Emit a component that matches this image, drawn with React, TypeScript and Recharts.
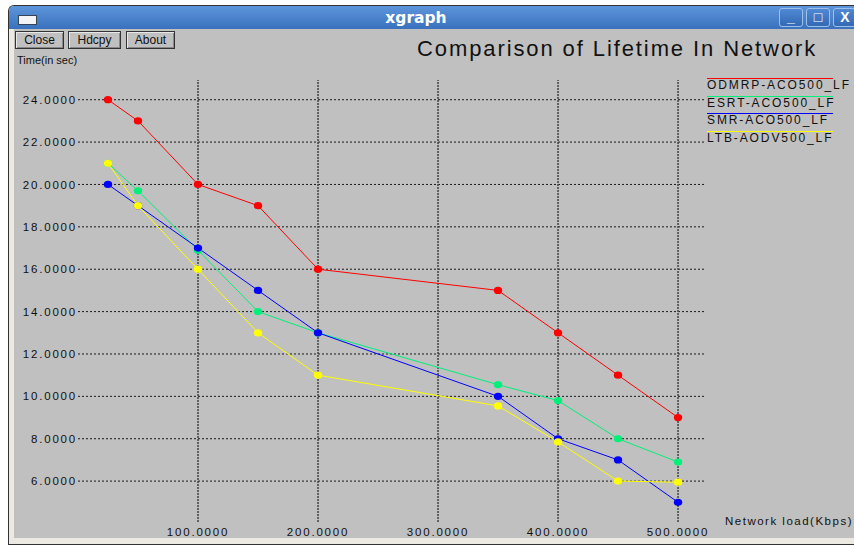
import React from 'react';
import { LineChart, Line, XAxis, YAxis, ReferenceLine } from 'recharts';

// network load (Kbps) for every sample
const loads = [25, 50, 100, 150, 200, 350, 400, 450, 500];

// lifetime in seconds, one list per protocol
const odmrp = [24, 23, 20, 19, 16, 15, 13, 11, 9];
const esrt = [21, 19.7, 16.9, 14, 13, 10.55, 9.8, 8, 6.9];
const smr = [20, 19, 17, 15, 13, 10, 8, 7, 5];
const ltb = [21, 19, 16, 13, 11, 9.55, 7.85, 6, 5.95];

const seriesNames = ['ODMRP-ACO500_LF', 'ESRT-ACO500_LF', 'SMR-ACO500_LF', 'LTB-AODV500_LF'];
const seriesColors = ['#ff0000', '#00f07a', '#0000ff', '#ffff00'];
const seriesValues = [odmrp, esrt, smr, ltb];

const xTicks = [100, 200, 300, 400, 500];
const yTicks = [6, 8, 10, 12, 14, 16, 18, 20, 22, 24];

const data = loads.map((x, i) => {
  const row: Record<string, number> = { x };
  seriesNames.forEach((name, s) => {
    row[name] = seriesValues[s][i];
  });
  return row;
});

const font = '"Liberation Sans", Arial, Helvetica, sans-serif';
const tickStyle = { fontSize: 11.5, fill: '#111', fontFamily: font, letterSpacing: 1.8 };

const GRAY = '#c0c0c0';

const Btn = ({ left, width, label }: { left: number; width: number; label: string }) => (
  <div
    style={{
      position: 'absolute',
      left,
      top: 31,
      width,
      height: 18,
      boxSizing: 'border-box',
      border: '1px solid #333',
      boxShadow: 'inset 1px 1px 0 #e8e8e8, inset -1px -1px 0 #888',
      fontSize: 12,
      lineHeight: '16px',
      textAlign: 'center',
      color: '#111',
    }}
  >
    {label}
  </div>
);

const WinBtn = ({ left, children }: { left: number; children: React.ReactNode }) => (
  <div
    style={{
      position: 'absolute',
      left,
      top: 8,
      width: 24,
      height: 19,
      boxSizing: 'border-box',
      border: '1px solid #9cc0ec',
      borderRadius: 3,
      background: 'linear-gradient(#4f88d4, #3469b4)',
      color: '#fff',
      fontWeight: 'bold',
      fontSize: 14,
      lineHeight: '17px',
      textAlign: 'center',
    }}
  >
    {children}
  </div>
);

const Dot = (color: string) => (props: any) => {
  const { cx, cy, index } = props;
  if (cx == null || cy == null) return <g key={index} />;
  return <ellipse key={index} cx={cx} cy={cy} rx={4.2} ry={3.6} fill={color} />;
};

export default function App() {
  return (
    <div
      style={{
        position: 'fixed',
        left: 0,
        top: 0,
        width: 854,
        height: 545,
        background: '#fff',
        overflow: 'hidden',
        fontFamily: font,
      }}
    >
      {/* window frame */}
      <div
        style={{
          position: 'absolute',
          left: 8,
          top: 5,
          width: 860,
          height: 538,
          background: '#ece9e2',
          borderLeft: '1px solid #333',
          borderTop: '1px solid #333',
          borderBottom: '1px solid #333',
          borderTopLeftRadius: 6,
        }}
      />
      {/* title bar */}
      <div
        style={{
          position: 'absolute',
          left: 9,
          top: 6,
          width: 860,
          height: 23,
          borderTopLeftRadius: 5,
          background: 'linear-gradient(#5d95db, #3a71bd)',
        }}
      />
      <div
        style={{
          position: 'absolute',
          left: 18,
          top: 15,
          width: 17,
          height: 8,
          background: '#f4f4f4',
          border: '1px solid #345',
        }}
      />
      <div
        style={{
          position: 'absolute',
          left: 0,
          width: 832,
          top: 9,
          textAlign: 'center',
          color: '#fff',
          fontWeight: 'bold',
          fontSize: 15.5,
          fontFamily: '"DejaVu Sans", sans-serif',
        }}
      >
        xgraph
      </div>
      <WinBtn left={779}>_</WinBtn>
      <WinBtn left={806}>□</WinBtn>
      <WinBtn left={833}>X</WinBtn>

      {/* gray client area */}
      <div
        style={{
          position: 'absolute',
          left: 14,
          top: 29,
          width: 850,
          height: 509,
          background: GRAY,
        }}
      />

      <Btn left={15} width={49} label="Close" />
      <Btn left={68} width={53} label="Hdcpy" />
      <Btn left={126} width={49} label="About" />

      <div style={{ position: 'absolute', left: 17, top: 54, fontSize: 11, color: '#111' }}>
        Time(in sec)
      </div>
      <div
        style={{
          position: 'absolute',
          left: 417,
          top: 36,
          fontSize: 22,
          letterSpacing: 1.9,
          color: '#111',
          whiteSpace: 'nowrap',
        }}
      >
        Comparison of Lifetime In Network
      </div>
      <div
        style={{
          position: 'absolute',
          left: 725,
          top: 515,
          fontSize: 11.5,
          letterSpacing: 1.5,
          color: '#111',
          whiteSpace: 'nowrap',
        }}
      >
        Network load(Kbps)
      </div>

      {/* legend */}
      {seriesNames.map((name, i) => (
        <div
          key={name}
          style={{
            position: 'absolute',
            left: 707,
            top: 78 + i * 17.5,
            width: 126,
            borderTop: `1px solid ${seriesColors[i]}`,
            fontSize: 12,
            letterSpacing: 1.9,
            lineHeight: '13px',
            color: '#111',
            whiteSpace: 'nowrap',
          }}
        >
          {name}
        </div>
      ))}

      <div style={{ position: 'absolute', left: 0, top: 0 }}>
        <LineChart
          width={854}
          height={545}
          data={data}
          margin={{ top: 80, right: 148, left: 8, bottom: 3 }}
        >
          <XAxis
            dataKey="x"
            type="number"
            domain={[0, 523.3]}
            ticks={xTicks}
            tickFormatter={(v: number) => v.toFixed(4)}
            axisLine={false}
            tickLine={false}
            tickSize={0}
            tickMargin={6}
            height={20}
            tick={tickStyle}
            allowDataOverflow
          />
          <YAxis
            type="number"
            domain={[4.07, 24.93]}
            ticks={yTicks}
            tickFormatter={(v: number) => v.toFixed(4)}
            axisLine={false}
            tickLine={false}
            tickSize={0}
            tickMargin={1}
            width={70}
            tick={tickStyle}
            allowDataOverflow
          />
          {yTicks.map((t) => (
            <ReferenceLine key={'h' + t} y={t} stroke="#1a1a1a" strokeDasharray="2 2" />
          ))}
          {xTicks.map((t) => (
            <ReferenceLine
              key={'v' + t}
              x={t}
              stroke="#4a4a4a"
              strokeWidth={1.6}
              strokeDasharray="2 1"
            />
          ))}
          {seriesNames.map((name, i) => (
            <Line
              key={name}
              type="linear"
              dataKey={name}
              stroke={seriesColors[i]}
              strokeWidth={1}
              dot={Dot(seriesColors[i])}
              activeDot={false}
              isAnimationActive={false}
            />
          ))}
        </LineChart>
      </div>
    </div>
  );
}
